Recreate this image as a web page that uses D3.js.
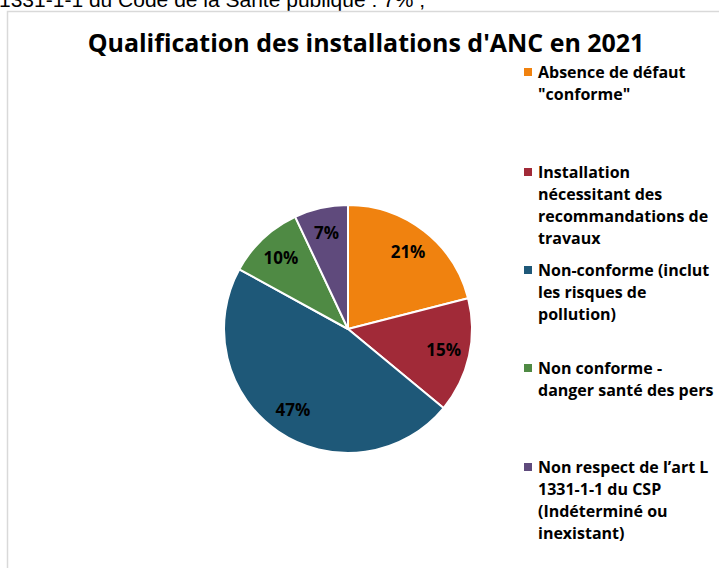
<!DOCTYPE html>
<html>
<head>
<meta charset="utf-8">
<script src="https://cdn.jsdelivr.net/npm/d3@7"></script>
<style>
  html, body { margin: 0; padding: 0; background: #fff; overflow: hidden; }
  svg { display: block; }
</style>
</head>
<body>
<svg id="chart" width="719" height="568"></svg>
<script>
// pie of ANC installation quality, 2021
const categories = [
  'Absence de défaut "conforme"',
  'Installation nécessitant des recommandations de travaux',
  'Non-conforme (inclut les risques de pollution)',
  'Non conforme - danger santé des pers',
  'Non respect de l’art L 1331-1-1 du CSP (Indéterminé ou inexistant)'
];
const values = [21, 15, 47, 10, 7];
const colors = ['#F0820F', '#A12A38', '#1E5878', '#4F8A44', '#5F4A7C'];
// legend text split the way the original wraps it
const legendLines = [
  ['Absence de défaut', '"conforme"'],
  ['Installation', 'nécessitant des', 'recommandations de', 'travaux'],
  ['Non-conforme (inclut', 'les risques de', 'pollution)'],
  ['Non conforme -', 'danger santé des pers'],
  ['Non respect de l’art L', '1331-1-1 du CSP', '(Indéterminé ou', 'inexistant)']
];
const legendY = [72, 172, 270, 368, 467];
const aboveText = '1331-1-1 du Code de la Santé publique : 7% ;';
const title = "Qualification des installations d'ANC en 2021";

const svg = d3.select('#chart');
const W = 719, H = 568;

// leftover line of the surrounding document, cut at the top
svg.append('text').attr('x', -1).attr('y', 7)
  .attr('font-family', 'Liberation Sans, Arial, sans-serif').attr('font-size', 21)
  .attr('fill', '#000').text(aboveText);

// chart frame
svg.append('rect').attr('x', 7.5).attr('y', 11.5).attr('width', W).attr('height', H)
  .attr('fill', '#fff').attr('stroke', '#d9d9d9').attr('stroke-width', 1.5);

const t = svg.append('text').attr('x', 366).attr('y', 52).attr('text-anchor', 'middle')
  .attr('font-family', 'Open Sans, sans-serif').attr('font-weight', 700)
  .attr('font-size', 24).attr('fill', '#000').text(title);
const tw = t.node().getComputedTextLength();
t.attr('font-size', 24 * 557 / tw);

// pie
const cx = 348, cy = 329, R = 124;
const pie = d3.pie().sort(null).value(d => d)(values);
const arc = d3.arc().innerRadius(0).outerRadius(R);
const labelArc = d3.arc().innerRadius(R * 0.79).outerRadius(R * 0.79);
const g = svg.append('g').attr('transform', `translate(${cx},${cy})`);
g.selectAll('path').data(pie).join('path')
  .attr('d', arc).attr('fill', (d, i) => colors[i])
  .attr('stroke', '#fff').attr('stroke-width', 2).attr('stroke-linejoin', 'round');
g.selectAll('text').data(pie).join('text')
  .attr('transform', d => `translate(${labelArc.centroid(d)})`)
  .attr('text-anchor', 'middle').attr('dy', '0.35em')
  .attr('font-family', 'Open Sans, sans-serif').attr('font-weight', 700)
  .attr('font-size', 17).attr('fill', '#000')
  .text(d => d.value + '%');

// legend
const lg = svg.append('g');
legendLines.forEach((lines, i) => {
  const y0 = legendY[i];
  lg.append('rect').attr('x', 524).attr('y', y0 - 4).attr('width', 8).attr('height', 8)
    .attr('fill', colors[i]);
  lines.forEach((s, j) => {
    lg.append('text').attr('x', 538).attr('y', y0 + 6 + j * 22)
      .attr('font-family', 'Open Sans, sans-serif').attr('font-weight', 700)
      .attr('font-size', 16).attr('fill', '#000').text(s);
  });
});
</script>
</body>
</html>
